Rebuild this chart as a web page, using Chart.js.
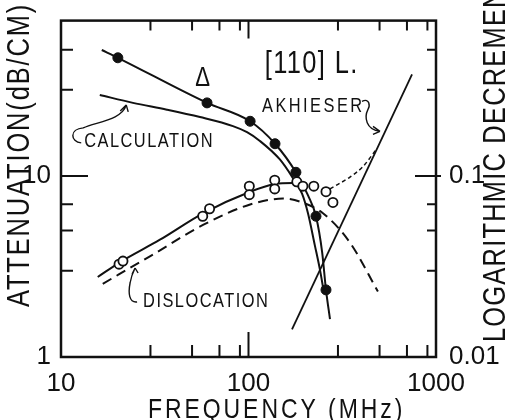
<!DOCTYPE html>
<html>
<head>
<meta charset="utf-8">
<script src="https://cdn.jsdelivr.net/npm/chart.js@4.4.1/dist/chart.umd.min.js"></script>
<style>
  html, body { margin: 0; padding: 0; background: #fff; }
  #wrap { width: 505px; height: 420px; }
</style>
</head>
<body>
<div id="wrap"><canvas id="chart" width="505" height="420"></canvas></div>
<script>
// measured attenuation, filled circles (MHz, dB/cm)
const measuredFreq = [20.1, 60.1, 102, 138.5, 179, 229, 259];
const measuredAtt  = [45.1, 25.4, 20.1, 15.1, 10.5, 6.0, 2.35];

// dislocation part, open circles
const dislocFreq = [20.4, 21.4, 57, 62, 101, 101, 138, 138, 181, 195, 223, 259, 282];
const dislocAtt  = [3.26, 3.39, 6.0, 6.6, 8.8, 7.9, 9.5, 8.5, 9.3, 8.8, 8.8, 8.2, 7.15];

// smooth curve through the measured points
const measuredFitFreq = [16.5, 20.1, 60.1, 102, 138.5, 179, 208, 229, 247, 259, 272];
const measuredFitAtt  = [49.8, 45.1, 25.4, 20.1, 15.1, 10.5, 7.8, 6.0, 3.8, 2.35, 1.62];

// calculated total
const calcFreq = [16.1, 24.2, 36.7, 55.1, 82.6, 98.2, 115, 147, 172.6, 193, 207.6, 226, 240, 253];
const calcAtt  = [28.1, 25.4, 23.3, 21.2, 18.9, 17.5, 15.65, 12.36, 9.75, 8.0, 6.23, 4.13, 3.07, 2.25];

// solid curve through the open circles
const dislocFitFreq = [15.7, 20.7, 33.7, 57.2, 102, 138.5, 172.6, 190];
const dislocFitAtt  = [2.77, 3.35, 4.45, 6.23, 8.2, 9.05, 9.17, 8.8];

// dislocation damping, calculated (long dashes)
const dislocCalcFreq = [16.7, 29.8, 57.2, 102, 152.8, 188, 249.6, 347.6, 490];
const dislocCalcAtt  = [2.54, 3.60, 5.37, 6.97, 7.51, 7.23, 6.23, 4.29, 2.30];

// Akhieser loss
const akhFreq = [170.6, 745];
const akhAtt  = [1.42, 36.5];

// dislocation + Akhieser (short dashes)
const sumFreq = [272, 300, 347.6, 408, 484];
const sumAtt  = [8.5, 9.0, 9.88, 11.3, 14.2];

// axis ticks
const freqTicks  = [10, 30, 50, 70, 90, 100, 300, 500, 700, 900, 1000];
const freqLabels = [10, 100, 1000];
const attTicks   = [1, 3, 5, 7, 10, 30, 50];
const attLabels  = [1, 10];
const decTicks   = [0.01, 0.03, 0.05, 0.07, 0.1, 0.3, 0.5];
const decLabels  = [0.01, 0.1];

const FONT = "'Liberation Sans', Arial, sans-serif";
const INK = '#111';
const NARROW = 0.82;   // squeeze factor for the lettering

Chart.defaults.font.family = FONT;
Chart.defaults.color = INK;

function zip(xs, ys) {
    return xs.map((x, i) => ({ x: x, y: ys[i] }));
}

function fixedTicks(values) {
    return scale => { scale.ticks = values.map(v => ({ value: v })); };
}

function curve(data, extra) {
    return Object.assign({
        data: data,
        showLine: true,
        borderColor: INK,
        borderWidth: 2,
        pointRadius: 0,
        pointHoverRadius: 0,
        cubicInterpolationMode: 'monotone',
        order: 2
    }, extra || {});
}

// narrow, letter-spaced text, optionally rotated
function drawText(ctx, text, x, y, size, spacing, angle) {
    ctx.save();
    ctx.translate(x, y);
    if (angle) ctx.rotate(angle);
    ctx.scale(NARROW, 1);
    ctx.font = size + 'px ' + FONT;
    ctx.letterSpacing = spacing + 'px';
    ctx.textAlign = 'left';
    ctx.textBaseline = 'alphabetic';
    ctx.fillText(text, 0, 0);
    ctx.restore();
}

// text notes, anchored in data space (left, baseline)
const notes = [
    { text: '[110] L.', f: 122, a: 37, size: 31, gap: 1.7 },
    { text: 'Δ', f: 52, a: 31.5, size: 27, gap: 0 },
    { text: 'AKHIESER', f: 118, a: 22.5, size: 20, gap: 3 },
    { text: 'CALCULATION', f: 13.3, a: 14.5, size: 20, gap: 1.8 },
    { text: 'DISLOCATION', f: 27.4, a: 1.89, size: 20, gap: 1.8 }
];

// curly pointers, offsets from the note anchor
const pointers = {
    'CALCULATION': { start: [-3, -4], curves: [[-14, -5, -15, -18, -1, -19], [12, -25, 38, -27, 42, -42]], tip: [42, -42], arms: [[-6, 6], [2, 7]] },
    'DISLOCATION': { start: [-6, -5], curves: [[-14, -4, -15, -14, -13, -24], [-12, -30, -10, -35, -8, -39]], tip: [-8, -39], arms: [[-3, 6], [3, 5]] },
    'AKHIESER':    { start: [100, -11], curves: [[108, -15, 108, -6, 106, -3], [102, 5, 104, 17, 118, 19]], tip: [118, 19], arms: [[-7, -5], [-7, 3]] }
};

const framePlugin = {
    id: 'frame',
    beforeDatasetsDraw(chart) {
        const { ctx, chartArea: a, scales } = chart;
        ctx.save();
        ctx.strokeStyle = INK;
        ctx.lineWidth = 2.5;
        ctx.strokeRect(a.left, a.top, a.right - a.left, a.bottom - a.top);

        // tick marks point inward
        ctx.lineWidth = 2;
        ctx.beginPath();
        scales.x.ticks.forEach(t => {
            if (t.value === 10 || t.value === 1000) return;
            const px = scales.x.getPixelForValue(t.value);
            const big = t.value === 100;
            ctx.moveTo(px, a.bottom); ctx.lineTo(px, a.bottom - (big ? 25 : 12));
            ctx.moveTo(px, a.top); ctx.lineTo(px, a.top + (big ? 18 : 10));
        });
        scales.y.ticks.forEach(t => {
            if (t.value === 1) return;
            const py = scales.y.getPixelForValue(t.value);
            ctx.moveTo(a.left, py); ctx.lineTo(a.left + (t.value === 10 ? 27 : 12), py);
        });
        scales.y2.ticks.forEach(t => {
            if (t.value === 0.01) return;
            const py = scales.y2.getPixelForValue(t.value);
            if (t.value === 0.1) {
                ctx.moveTo(a.right + 5, py); ctx.lineTo(a.right - 21, py);
            } else {
                ctx.moveTo(a.right, py); ctx.lineTo(a.right - 9, py);
            }
        });
        ctx.stroke();
        ctx.restore();
    },
    afterDraw(chart) {
        const { ctx, chartArea: a, scales } = chart;
        ctx.save();
        ctx.fillStyle = INK;
        ctx.strokeStyle = INK;

        // axis titles
        drawText(ctx, 'FREQUENCY (MHz)', a.left + 87, chart.height - 2, 28, 3.6);
        drawText(ctx, 'ATTENUATION(dB/CM)', 29, 307, 31, 2.3, -Math.PI / 2);
        drawText(ctx, 'LOGARITHMIC DECREMENT', 505, 342, 31, 1.5, -Math.PI / 2);

        // notes and their pointers
        notes.forEach(n => {
            const x = scales.x.getPixelForValue(n.f);
            const y = scales.y.getPixelForValue(n.a);
            drawText(ctx, n.text, x, y, n.size, n.gap);

            const p = pointers[n.text];
            if (!p) return;
            ctx.lineWidth = 1.4;
            ctx.beginPath();
            ctx.moveTo(x + p.start[0], y + p.start[1]);
            p.curves.forEach(c => {
                ctx.bezierCurveTo(x + c[0], y + c[1], x + c[2], y + c[3], x + c[4], y + c[5]);
            });
            const tx = x + p.tip[0], ty = y + p.tip[1];
            p.arms.forEach(arm => {
                ctx.moveTo(tx + arm[0], ty + arm[1]);
                ctx.lineTo(tx, ty);
            });
            ctx.stroke();
        });
        ctx.restore();
    }
};

new Chart(document.getElementById('chart'), {
    type: 'scatter',
    data: {
        datasets: [
            {
                data: zip(measuredFreq, measuredAtt),
                pointRadius: 5,
                pointBackgroundColor: INK,
                pointBorderColor: INK,
                pointBorderWidth: 1,
                order: 0
            },
            {
                data: zip(dislocFreq, dislocAtt),
                pointRadius: 4.6,
                pointBackgroundColor: '#fff',
                pointBorderColor: INK,
                pointBorderWidth: 1.8,
                order: 1
            },
            curve(zip(measuredFitFreq, measuredFitAtt)),
            curve(zip(calcFreq, calcAtt)),
            curve(zip(dislocFitFreq, dislocFitAtt)),
            curve(zip(dislocCalcFreq, dislocCalcAtt), { borderDash: [10, 6] }),
            curve(zip(akhFreq, akhAtt), { borderWidth: 1.8 }),
            curve(zip(sumFreq, sumAtt), { borderDash: [4, 3], borderWidth: 1.5 })
        ]
    },
    options: {
        responsive: false,
        animation: false,
        devicePixelRatio: 1,
        layout: { padding: { top: 13, left: 0, right: 0, bottom: 0 } },
        plugins: {
            legend: { display: false },
            tooltip: { enabled: false }
        },
        scales: {
            x: {
                type: 'logarithmic',
                position: 'bottom',
                min: 10,
                max: 1000,
                afterBuildTicks: fixedTicks(freqTicks),
                afterFit: s => { s.height = 63; },
                grid: { display: false },
                border: { display: false },
                ticks: {
                    autoSkip: false,
                    maxRotation: 0,
                    padding: 3,
                    font: { size: 26 },
                    callback: v => freqLabels.includes(v) ? String(v) : ''
                }
            },
            y: {
                type: 'logarithmic',
                position: 'left',
                min: 1,
                max: 72.4,
                afterBuildTicks: fixedTicks(attTicks),
                afterFit: s => { s.width = 61; },
                grid: { display: false },
                border: { display: false },
                ticks: {
                    autoSkip: false,
                    padding: 2,
                    font: { size: 26 },
                    callback: v => attLabels.includes(v) ? String(v) : ''
                }
            },
            y2: {
                type: 'logarithmic',
                position: 'right',
                min: 0.01,
                max: 0.724,
                afterBuildTicks: fixedTicks(decTicks),
                afterFit: s => { s.width = 69; },
                grid: { display: false },
                border: { display: false },
                ticks: {
                    autoSkip: false,
                    padding: 5,
                    font: { size: 26 },
                    callback: v => decLabels.includes(v) ? String(v) : ''
                }
            }
        }
    },
    plugins: [framePlugin]
});
</script>
</body>
</html>
